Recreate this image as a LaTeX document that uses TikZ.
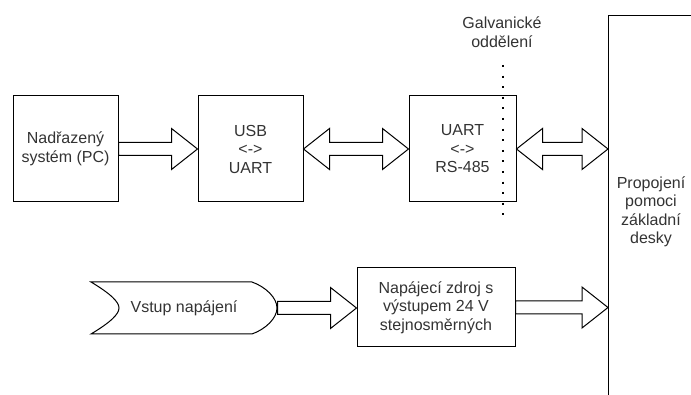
\documentclass[tikz,border=0pt]{standalone}
\usepackage{fontspec}
\setmainfont{Liberation Sans}
\usetikzlibrary{positioning,calc}

\newcommand{\fatarrow}[2]{%
  \draw[fatarr] let \p1=(#1), \p2=(#2) in
    (\x1,\y1+6.5pt) -- (\x2-26pt,\y1+6.5pt) -- (\x2-26pt,\y1+20.5pt) -- (\x2,\y1)
    -- (\x2-26pt,\y1-20.5pt) -- (\x2-26pt,\y1-6.5pt) -- (\x1,\y1-6.5pt) -- cycle;}
\newcommand{\dblarrow}[2]{%
  \draw[fatarr] let \p1=(#1), \p2=(#2) in
    (\x1,\y1) -- (\x1+26pt,\y1+20.5pt) -- (\x1+26pt,\y1+6.5pt) -- (\x2-26pt,\y1+6.5pt)
    -- (\x2-26pt,\y1+20.5pt) -- (\x2,\y1) -- (\x2-26pt,\y1-20.5pt) -- (\x2-26pt,\y1-6.5pt)
    -- (\x1+26pt,\y1-6.5pt) -- (\x1+26pt,\y1-20.5pt) -- cycle;}

\begin{document}
\begin{tikzpicture}[x=1pt,y=-1pt,line width=1pt,
    font=\fontsize{16}{18.5}\selectfont,text=black!80,
    block/.style={draw,align=center,inner sep=0pt},
    fatarr/.style={draw,fill=white,line join=miter},
    sepline/.style={line width=2pt,dash pattern=on 2pt off 8.6pt}]
      \useasboundingbox (0,0) rectangle (691,395);
      \clip (0,0) rectangle (691,395);
      \node[block,minimum width=105,minimum height=106] (pc) at (65.5,149) {Nadřazený\\systém (PC)};
      \node[block,minimum width=105,minimum height=106] (usb) at (250.5,149) {USB\\<->\\UART};
      \node[block,minimum width=107,minimum height=106] (rs) at (462.5,149) {UART\\<->\\RS-485};
      \node[block,minimum width=158,minimum height=79] (zdroj) at (436,307.5) {Napájecí zdroj s\\výstupem 24 V\\stejnosměrných};
      \node[minimum width=186,minimum height=52,inner sep=0pt] (vstup) at (184,308) {Vstup napájení};
      \node[align=center] (galv) at (502,32) {Galvanické\\oddělení};
      \node[align=center] (deskatext) at (651,212) {Propojení\\pomoci\\základní\\desky};
      \coordinate (deska) at (608,16);
      \draw (deska) ++(0,400) -- (deska) -- ++(100,0);
      \draw (91,282) -- (252,282) .. controls (266,287) and (277,298) .. (277,308)
        .. controls (277,318) and (266,329) .. (252,334) -- (91,334)
        .. controls (111,322) and (119,314) .. (119,308)
        .. controls (119,302) and (111,294) .. (91,282) -- cycle;
      \draw[sepline] (503,65) -- (503,215);
      \fatarrow{pc.east}{usb.west}
      \dblarrow{usb.east}{rs.west}
      \dblarrow{rs.east}{deska |- rs.east}
      \fatarrow{vstup.east}{zdroj.west}
      \fatarrow{zdroj.east}{deska |- zdroj.east}
\end{tikzpicture}
\end{document}
